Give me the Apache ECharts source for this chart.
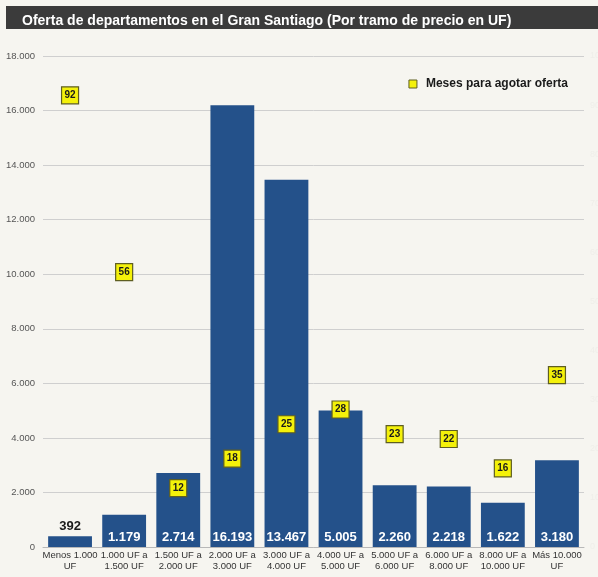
<!DOCTYPE html>
<html>
<head>
<meta charset="utf-8">
<script src="https://cdn.jsdelivr.net/npm/echarts@6/dist/echarts.min.js"></script>
<style>
  html, body { margin: 0; padding: 0; background: #f6f5f0; overflow: hidden; }
  #chart { width: 598px; height: 577px; }
</style>
</head>
<body>
<div id="chart"></div>
<script>
// Price brackets (UF)
const categories = [
  'Menos 1.000\nUF', '1.000 UF a\n1.500 UF', '1.500 UF a\n2.000 UF', '2.000 UF a\n3.000 UF',
  '3.000 UF a\n4.000 UF', '4.000 UF a\n5.000 UF', '5.000 UF a\n6.000 UF', '6.000 UF a\n8.000 UF',
  '8.000 UF a\n10.000 UF', 'Más 10.000\nUF'
];
// Units on offer per bracket
const oferta = [392, 1179, 2714, 16193, 13467, 5005, 2260, 2218, 1622, 3180];
// Months needed to sell the offer
const meses = [92, 56, 12, 18, 25, 28, 23, 22, 16, 35];

const fmt = v => String(v).replace(/\B(?=(\d{3})+(?!\d))/g, '.');

const chart = echarts.init(document.getElementById('chart'));
chart.setOption({
  backgroundColor: '#f6f5f0',
  animation: false,
  textStyle: { fontFamily: 'Liberation Sans, Arial, sans-serif' },
  graphic: [
    { type: 'rect', shape: { x: 6, y: 6, width: 592, height: 23 }, style: { fill: '#3b3b3b' }, z: 0 }
  ],
  title: {
    text: 'Oferta de departamentos en el Gran Santiago (Por tramo de precio en UF)',
    left: 17, top: 9,
    textStyle: { color: '#ffffff', fontSize: 14, fontWeight: 'bold', fontFamily: 'Liberation Sans, Arial, sans-serif' }
  },
  legend: {
    data: ['Meses para agotar oferta'],
    right: 25, top: 73,
    icon: 'rect', itemWidth: 8, itemHeight: 8, itemGap: 6,
    itemStyle: { borderColor: '#5e5e22', borderWidth: 1 },
    textStyle: { fontSize: 12, fontWeight: 'bold', color: '#1a1a1a', padding: [0, 0, 0, 4] }
  },
  grid: { left: 43, right: 14, top: 56, bottom: 30, containLabel: false, outerBoundsMode: 'none' },
  xAxis: {
    type: 'category',
    data: categories,
    axisTick: { show: false },
    axisLine: { lineStyle: { color: '#b8b8b8' } },
    axisLabel: { interval: 0, fontSize: 9.5, color: '#333', lineHeight: 11, margin: 3 }
  },
  yAxis: [
    {
      type: 'value', min: 0, max: 18000, interval: 2000,
      axisLabel: { formatter: fmt, fontSize: 9.5, color: '#555', margin: 8 },
      splitLine: { lineStyle: { color: '#cfcfcf' } },
      axisLine: { show: false }, axisTick: { show: false }
    },
    {
      type: 'value', min: 0, max: 100, interval: 10,
      axisLabel: { fontSize: 9, color: '#efeee9', margin: 6 },
      splitLine: { show: false },
      axisLine: { show: false }, axisTick: { show: false }
    }
  ],
  series: [
    {
      name: 'Oferta',
      type: 'bar',
      data: oferta.map((v, i) => i === 0
        ? { value: v, label: { position: 'top', color: '#1a1a1a', distance: 3 } }
        : v),
      barCategoryGap: '19%',
      itemStyle: { color: '#24518a' },
      label: {
        show: true, position: 'insideBottom', distance: 3,
        color: '#ffffff', fontSize: 13, fontWeight: 'bold',
        formatter: p => fmt(p.value)
      },
      z: 2
    },
    {
      name: 'Meses para agotar oferta',
      type: 'scatter',
      yAxisIndex: 1,
      data: meses,
      symbol: 'rect',
      symbolSize: 17,
      itemStyle: { color: '#f4f10a', borderColor: '#5e5e22', borderWidth: 1.2, opacity: 1 },
      label: {
        show: true, position: 'inside',
        color: '#1a1a1a', fontSize: 10, fontWeight: 'bold'
      },
      z: 5
    }
  ]
});
</script>
</body>
</html>
